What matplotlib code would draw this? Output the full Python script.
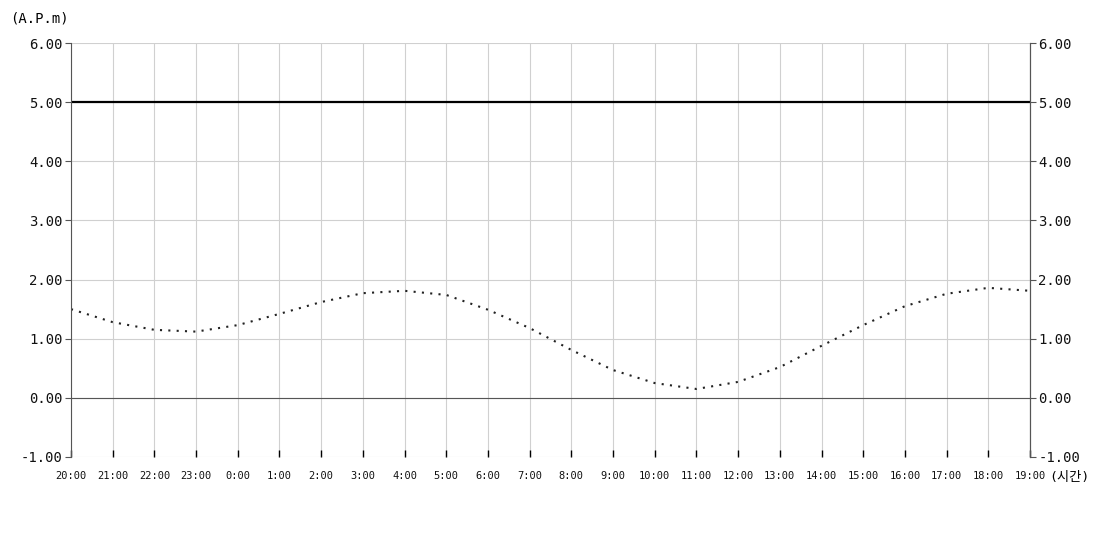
import numpy as np
import matplotlib.pyplot as plt

# --- DATA ---
hours = ["20:00", "21:00", "22:00", "23:00", "0:00", "1:00", "2:00", "3:00",
         "4:00", "5:00", "6:00", "7:00", "8:00", "9:00", "10:00", "11:00",
         "12:00", "13:00", "14:00", "15:00", "16:00", "17:00", "18:00", "19:00"]
values = [1.50, 1.28, 1.15, 1.12, 1.23, 1.42, 1.62, 1.77,
          1.81, 1.74, 1.49, 1.18, 0.81, 0.47, 0.25, 0.15,
          0.27, 0.52, 0.88, 1.23, 1.55, 1.76, 1.86, 1.81]
limit = 5.0
yticks = [-1, 0, 1, 2, 3, 4, 5, 6]

plt.rcParams['font.family'] = ['DejaVu Sans Mono', 'Noto Sans CJK KR']

fig = plt.figure(figsize=(11, 5.5), dpi=100)
ax = fig.add_axes([71 / 1100, 1 - 457 / 550, 959 / 1100, 414 / 550])
x = np.arange(len(hours))

ax.grid(True, color='#d0d0d0', linewidth=0.8)
ax.set_axisbelow(True)
ax.axhline(0, color='#555555', linewidth=0.8)
ax.axhline(limit, color='black', linewidth=1.6)
ax.plot(x, values, color='#222222', linewidth=1.5, linestyle=(0, (1, 3)))

ax.set_xlim(0, len(hours) - 1)
ax.set_ylim(-1, 6)
ax.set_xticks(x)
ax.set_xticklabels(hours, fontsize=7.5, color='#111111')
ax.set_yticks(yticks)
ax.set_yticklabels([f"{v:.2f}" for v in yticks], fontsize=10, color='#111111')
ax.tick_params(axis='x', direction='in', length=5, width=1, color='black', pad=10)
ax.tick_params(axis='y', direction='out', length=4, color='#555555', pad=2)

for s in ['left', 'right']:
    ax.spines[s].set_color('#555555')
for s in ['top', 'bottom']:
    ax.spines[s].set_visible(False)

ax2 = ax.twinx()
ax2.set_ylim(-1, 6)
ax2.set_yticks(yticks)
ax2.set_yticklabels([f"{v:.2f}" for v in yticks], fontsize=10, color='#111111')
ax2.tick_params(axis='y', direction='out', length=4, color='#555555', pad=2)
for s in ['top', 'bottom', 'left']:
    ax2.spines[s].set_visible(False)
ax2.spines['right'].set_color('#555555')

fig.text(10 / 1100, 1 - 19 / 550, "(A.P.m)", fontsize=10, va='center', ha='left')
fig.text(1049 / 1100, 1 - 477 / 550, "(시간)", fontsize=9.5, va='center', ha='left')

fig.savefig("out.png", dpi=100)
